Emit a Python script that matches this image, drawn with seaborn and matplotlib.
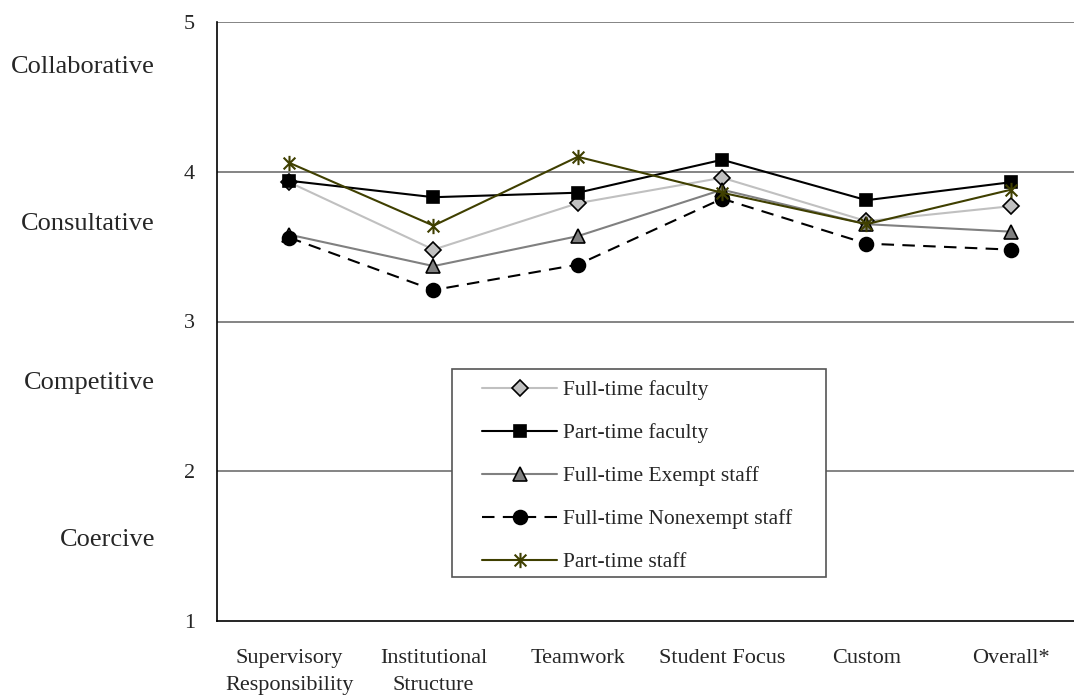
import matplotlib
matplotlib.use("Agg")
import matplotlib.pyplot as plt
import seaborn as sns
import pandas as pd
from matplotlib.path import Path
from matplotlib.patches import Rectangle
from matplotlib.transforms import blended_transform_factory

# Dados
categorias = ["Supervisory\nResponsibility", "Institutional\nStructure", "Teamwork",
              "Student Focus", "Custom", "Overall*"]
ft_faculty = [3.93, 3.48, 3.79, 3.96, 3.67, 3.77]
pt_faculty = [3.94, 3.83, 3.86, 4.08, 3.81, 3.93]
ft_exempt = [3.58, 3.37, 3.57, 3.88, 3.65, 3.60]
ft_nonexempt = [3.56, 3.21, 3.38, 3.82, 3.52, 3.48]
pt_staff = [4.06, 3.64, 4.10, 3.86, 3.65, 3.88]
series_nomes = ["Full-time faculty", "Part-time faculty", "Full-time Exempt staff",
                "Full-time Nonexempt staff", "Part-time staff"]
y_ticks = [1, 2, 3, 4, 5]
y_niveis = ["Collaborative", "Consultative", "Competitive", "Coercive"]
y_niveis_pos = [4.70, 3.65, 2.59, 1.54]

sns.set_style("white")
plt.rcParams["font.family"] = ["Liberation Serif", "DejaVu Serif"]

# marcador asterisco (X + linha vertical)
estrela = Path([(-1, -1), (1, 1), (-1, 1), (1, -1), (0, -1.3), (0, 1.3)],
               [Path.MOVETO, Path.LINETO] * 3)

estilos = [
    dict(color="#c0c0c0", marker="D", markersize=8, markerfacecolor="#c0c0c0",
         markeredgecolor="black", markeredgewidth=1.2, linestyle="-"),
    dict(color="black", marker="s", markersize=8.5, markerfacecolor="black",
         markeredgecolor="black", markeredgewidth=1.2, linestyle="-"),
    dict(color="#808080", marker="^", markersize=10, markerfacecolor="#808080",
         markeredgecolor="black", markeredgewidth=1.2, linestyle="-"),
    dict(color="black", marker="o", markersize=10, markerfacecolor="black",
         markeredgecolor="black", markeredgewidth=1.2, linestyle=(0, (6, 4))),
    dict(color="#3f3f00", marker=estrela, markersize=11, markerfacecolor="none",
         markeredgecolor="#3f3f00", markeredgewidth=1.5, linestyle="-"),
]

fig = plt.figure(figsize=(10.74, 6.96), dpi=100)
ax = fig.add_axes([217 / 1074, 75 / 696, 866 / 1074, 599 / 696])

for nome, valores, est in zip(series_nomes,
                              [ft_faculty, pt_faculty, ft_exempt, ft_nonexempt, pt_staff],
                              estilos):
    df = pd.DataFrame({"categoria": categorias, "valor": valores})
    sns.lineplot(data=df, x="categoria", y="valor", ax=ax, label=nome,
                 sort=False, errorbar=None, linewidth=1.5, **est)

ax.set_ylim(1, 5)
ax.set_xlim(-0.5, 5.5)
ax.set_yticks(y_ticks)
ax.set_yticklabels([str(t) for t in y_ticks])
ax.set_xticks(range(len(categorias)))
ax.set_xticklabels(categorias, linespacing=1.6)
ax.set_xticks([i - 0.5 for i in range(len(categorias) + 1)], minor=True)
ax.tick_params(axis="x", which="major", length=0, pad=20, labelsize=16)
ax.tick_params(axis="x", which="minor", length=7, width=1, color="#333333", direction="out")
ax.tick_params(axis="y", length=8, width=1, color="#333333", direction="out", pad=8, labelsize=16)
ax.set_xlabel("")
ax.set_ylabel("")

for t in [2, 3, 4, 5]:
    ax.axhline(t, color="#707070", linewidth=1.2, zorder=0)

for s in ["top", "right"]:
    ax.spines[s].set_visible(False)
for s in ["left", "bottom"]:
    ax.spines[s].set_color("black")
    ax.spines[s].set_linewidth(1.2)

trans = blended_transform_factory(fig.transFigure, ax.transData)
for texto, pos in zip(y_niveis, y_niveis_pos):
    ax.text(155 / 1074, pos, texto, transform=trans, ha="right", va="center", fontsize=19)

# caixa da legenda
caixa = Rectangle((452 / 1074, 1 - 577 / 696), 374 / 1074, 208 / 696,
                  transform=fig.transFigure, facecolor="white", edgecolor="#555555",
                  linewidth=1.2, zorder=4, clip_on=False)
ax.add_patch(caixa)

leg = ax.legend(loc="upper left", bbox_to_anchor=(482 / 1074, 1 - 380 / 696),
                bbox_transform=fig.transFigure, borderaxespad=0, borderpad=0,
                fontsize=15.5, frameon=False, handlelength=3.5, handletextpad=0.25,
                labelspacing=1.07)
leg.set_zorder(5)

fig.savefig("out.png", dpi=100)
plt.close()
